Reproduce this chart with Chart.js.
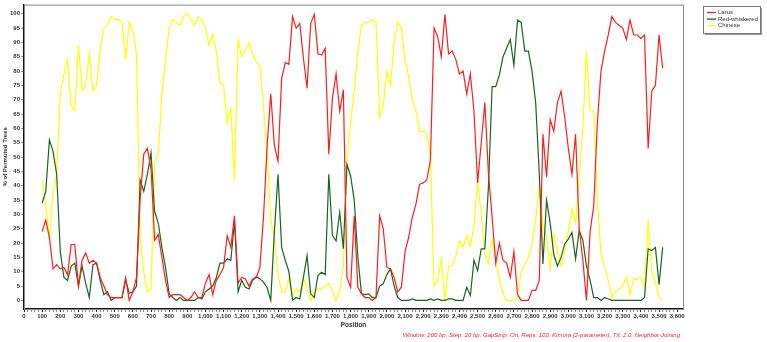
<!DOCTYPE html>
<html>
<head>
<meta charset="utf-8">
<script src="https://cdn.jsdelivr.net/npm/chart.js@4.4.1/dist/chart.umd.min.js"></script>
<style>
  html, body { margin: 0; padding: 0; background: #fff; }
  #wrap { position: relative; width: 767px; height: 342px; }
</style>
</head>
<body>
<div id="wrap"><canvas id="bootscan"></canvas></div>
<script>
/* ── Datos: % de árboles permutados por ventana (ventana 200 bp, paso 20 bp) ── */
const firstPos = 100;
const stepBp   = 20;

const larus = [
  24, 28, 22, 11, 12.5, 11, 11.5, 9, 19.5, 19.5,
  5, 14, 16.5, 13, 14, 13, 8, 5, 2, 1,
  1, 1, 1, 8, 0, 3, 8, 35, 51, 53,
  46, 21, 23, 15, 7, 1, 2, 2, 2, 1,
  0, 1, 3, 1, 1, 6, 9, 2, 7, 9,
  11.5, 22.6, 18.5, 29.5, 6, 8, 7.5, 5, 7.5, 8,
  11.5, 29, 54, 72, 54, 48.6, 77.5, 83, 82.4, 99,
  95, 96.6, 84.5, 74, 96.6, 99.8, 86, 85.6, 88, 51,
  70.6, 79, 66, 73.5, 8, 4.6, 29.5, 4.6, 2.3, 1,
  1, 0, 1, 29.5, 25, 11.5, 11, 8, 3, 4.6,
  17, 22, 29, 33.6, 40.5, 41, 42, 49, 95, 92,
  85, 99.8, 86, 87, 84, 79, 80, 72, 79, 66,
  41, 55, 69, 44, 29, 13, 20, 14, 13, 8,
  17, 2, 0, 0, 0, 3.5, 3.5, 7, 58, 43,
  63, 59, 69, 73, 64, 53, 44, 58, 25, 14,
  0, 24, 33, 62, 80, 87, 92.6, 99, 97, 96,
  95, 91, 97.8, 92.6, 92.6, 91.4, 92.6, 53, 73, 75,
  92.6, 81
];

const redWhiskered = [
  34, 38, 56, 52, 44, 17, 8, 7, 12, 13,
  5, 12, 6, 1, 12.5, 13, 7, 2, 3, 0,
  1, 1, 1, 7, 2.5, 3, 5, 42, 38, 44,
  51.5, 31, 27, 18.5, 11.5, 2.3, 1, 0, 1, 0,
  0, 0, 0, 1, 0.5, 3, 4, 5, 8, 13,
  13, 14.5, 14, 27.8, 3, 7, 4.6, 4, 7, 8.3,
  7.5, 6.4, 4.4, 0, 24, 44, 18.5, 14, 10, 0,
  1, 0.5, 8, 15.6, 2.3, 1, 8.7, 9.8, 9, 44,
  22.6, 20.8, 30.7, 18, 47.5, 43.4, 35, 15, 2.3, 2,
  2.3, 1, 1, 5, 5.8, 9, 11, 5, 1, 0,
  0, 0, 0.5, 0, 0, 0, 0, 0.5, 0, 0.5,
  0, 0, 0.5, 0.5, 0, 0, 0, 4.6, 1.7, 14,
  10.4, 18, 18, 40, 74.6, 74.6, 78.7, 85, 88, 91,
  82, 97.8, 97, 87, 87, 80, 69, 44, 12.7, 35,
  27, 16, 12, 15, 19.7, 21.4, 23.7, 14.5, 24.5, 21,
  12, 7, 1, 1, 0, 1, 0.5, 0, 0, 0,
  0, 0, 0, 0, 0, 0, 1, 18, 17.4, 18.5,
  5.5, 18.5
];

const chinese = [
  42, 33, 21, 38, 44, 72, 79, 84, 68, 66,
  89, 73, 75, 86, 73, 75, 87, 95, 96, 99,
  98, 98, 97, 84, 97, 94, 86, 22, 10, 3,
  4, 48, 51, 72, 84, 95, 98, 97, 96, 99,
  100, 98, 96, 99, 98, 95, 89, 93, 87, 76,
  75, 62, 67, 42, 91, 85, 87, 90, 86, 83,
  82, 68, 50, 28, 22, 9, 3, 3, 8, 2,
  4, 3, 8, 4, 0, 3, 4, 4, 5, 6,
  3, 0, 3, 12, 48, 62, 73, 87, 96, 97,
  97, 98, 97, 64, 68, 80, 75, 90, 97, 95,
  84, 78, 70, 66, 59, 59, 58, 50, 5, 7,
  14.5, 0, 12, 12, 15.6, 20.8, 18.5, 22.6, 18.8, 26,
  42, 30, 16, 13, 21, 15, 7, 2.5, 0, 0,
  0, 1, 10, 12.5, 15, 20, 28, 40, 26, 22,
  11, 23, 17, 12, 17, 24, 32, 27, 42, 60,
  87, 66, 66, 35, 16, 11.6, 7, 1.2, 3, 4,
  5, 8.3, 2, 7.5, 7.5, 8.3, 4.6, 28, 10, 6.4,
  1, 0
];

const seriesNames  = ['Larus', 'Red-whiskered', 'Chinese'];
const seriesColors = ['#ff1c1c', '#17661a', '#ffff00'];
const xTickStep  = 20;    // marcas menores
const xLabelStep = 100;   // etiquetas
const xMaxTick   = 3600;
const yTickStep  = 5;
const captionTxt = 'Window: 200 bp, Step: 20 bp, GapStrip: On, Reps: 100, Kimura (2-parameter), T/t: 2.0, Neighbor-Joining';

const positions = larus.map((_, i) => firstPos + i * stepBp);
const toXY = arr => arr.map((v, i) => ({ x: positions[i], y: v }));

const FONT = '"Liberation Sans", Arial, sans-serif';

/* ── Marco, leyenda y pie ── */
const extras = {
  id: 'extras',
  beforeDatasetsDraw(chart) {
    const { ctx, chartArea: a } = chart;
    ctx.save();
    ctx.strokeStyle = '#8a8a8a';
    ctx.lineWidth = 1;
    ctx.strokeRect(a.left + 0.5, a.top + 0.5, a.right - a.left, a.bottom - a.top);
    ctx.restore();
  },
  afterDraw(chart) {
    const { ctx } = chart;
    ctx.save();
    // leyenda
    const bx = 703, by = 6, bw = 57, bh = 27;
    ctx.fillStyle = '#9a9a9a';
    ctx.fillRect(bx + 2, by + 2, bw, bh);
    ctx.fillStyle = '#fff';
    ctx.fillRect(bx, by, bw, bh);
    ctx.strokeStyle = '#777';
    ctx.lineWidth = 1;
    ctx.strokeRect(bx + 0.5, by + 0.5, bw, bh);
    ctx.font = '6px ' + FONT;
    ctx.textBaseline = 'middle';
    seriesNames.forEach((nm, i) => {
      const y = by + 6.5 + i * 6.6;
      ctx.strokeStyle = seriesColors[i];
      ctx.lineWidth = 1.3;
      ctx.beginPath();
      ctx.moveTo(bx + 4, y);
      ctx.lineTo(bx + 13, y);
      ctx.stroke();
      ctx.fillStyle = '#333';
      ctx.fillText(nm, bx + 15, y);
    });
    // pie en rojo
    ctx.font = 'italic 6px ' + FONT;
    ctx.fillStyle = '#ff2020';
    ctx.textAlign = 'right';
    ctx.textBaseline = 'middle';
    ctx.fillText(captionTxt, 680, 335);
    ctx.restore();
  }
};

new Chart(document.getElementById('bootscan'), {
  type: 'line',
  data: {
    datasets: [larus, redWhiskered, chinese].map((arr, i) => ({
      label: seriesNames[i],
      data: toXY(arr),
      borderColor: seriesColors[i],
      backgroundColor: seriesColors[i],
      borderWidth: 1.2,
      pointRadius: 0,
      tension: 0,
      fill: false,
    })),
  },
  options: {
    responsive: true,
    maintainAspectRatio: false,
    animation: false,
    events: [],
    layout: { padding: { left: 0, top: 3, right: 84, bottom: 13 } },
    plugins: { legend: { display: false }, tooltip: { enabled: false } },
    scales: {
      x: {
        type: 'linear',
        min: 0,
        max: 3632,
        afterBuildTicks: s => {
          const t = [];
          for (let v = 0; v <= xMaxTick; v += xTickStep) t.push({ value: v });
          s.ticks = t;
        },
        afterFit: s => { s.height = 20; },
        border: { color: '#111', width: 1.5 },
        grid: {
          drawOnChartArea: false,
          tickLength: 3,
          tickColor: c => (c.tick && c.tick.value % xLabelStep === 0) ? '#222' : '#555',
          tickWidth: c => (c.tick && c.tick.value % xLabelStep === 0) ? 1 : 0.7,
        },
        ticks: {
          autoSkip: false,
          maxRotation: 0,
          padding: 1,
          color: '#333',
          font: { family: FONT, size: 6, weight: 'bold' },
          callback: v => v % xLabelStep === 0 ? v.toLocaleString('en-US') : '',
        },
        title: {
          display: true,
          text: 'Position',
          color: '#333',
          padding: { top: 0, bottom: 0 },
          font: { family: FONT, size: 6.5, weight: 'bold' },
        },
      },
      y: {
        min: -3,
        max: 103.2,
        afterBuildTicks: s => {
          const t = [];
          for (let v = 0; v <= 100; v += yTickStep) t.push({ value: v });
          s.ticks = t;
        },
        afterFit: s => { s.width = 24; },
        border: { color: '#111', width: 1.5 },
        grid: { drawOnChartArea: false, tickLength: 3, tickColor: '#7aa0c0' },
        ticks: {
          padding: 1,
          color: '#333',
          font: { family: FONT, size: 6, weight: 'bold' },
        },
        title: {
          display: true,
          text: '% of Permuted Trees',
          color: '#333',
          padding: { top: 2, bottom: 0 },
          font: { family: FONT, size: 6, weight: 'bold' },
        },
      },
    },
  },
  plugins: [extras],
});
</script>
</body>
</html>
